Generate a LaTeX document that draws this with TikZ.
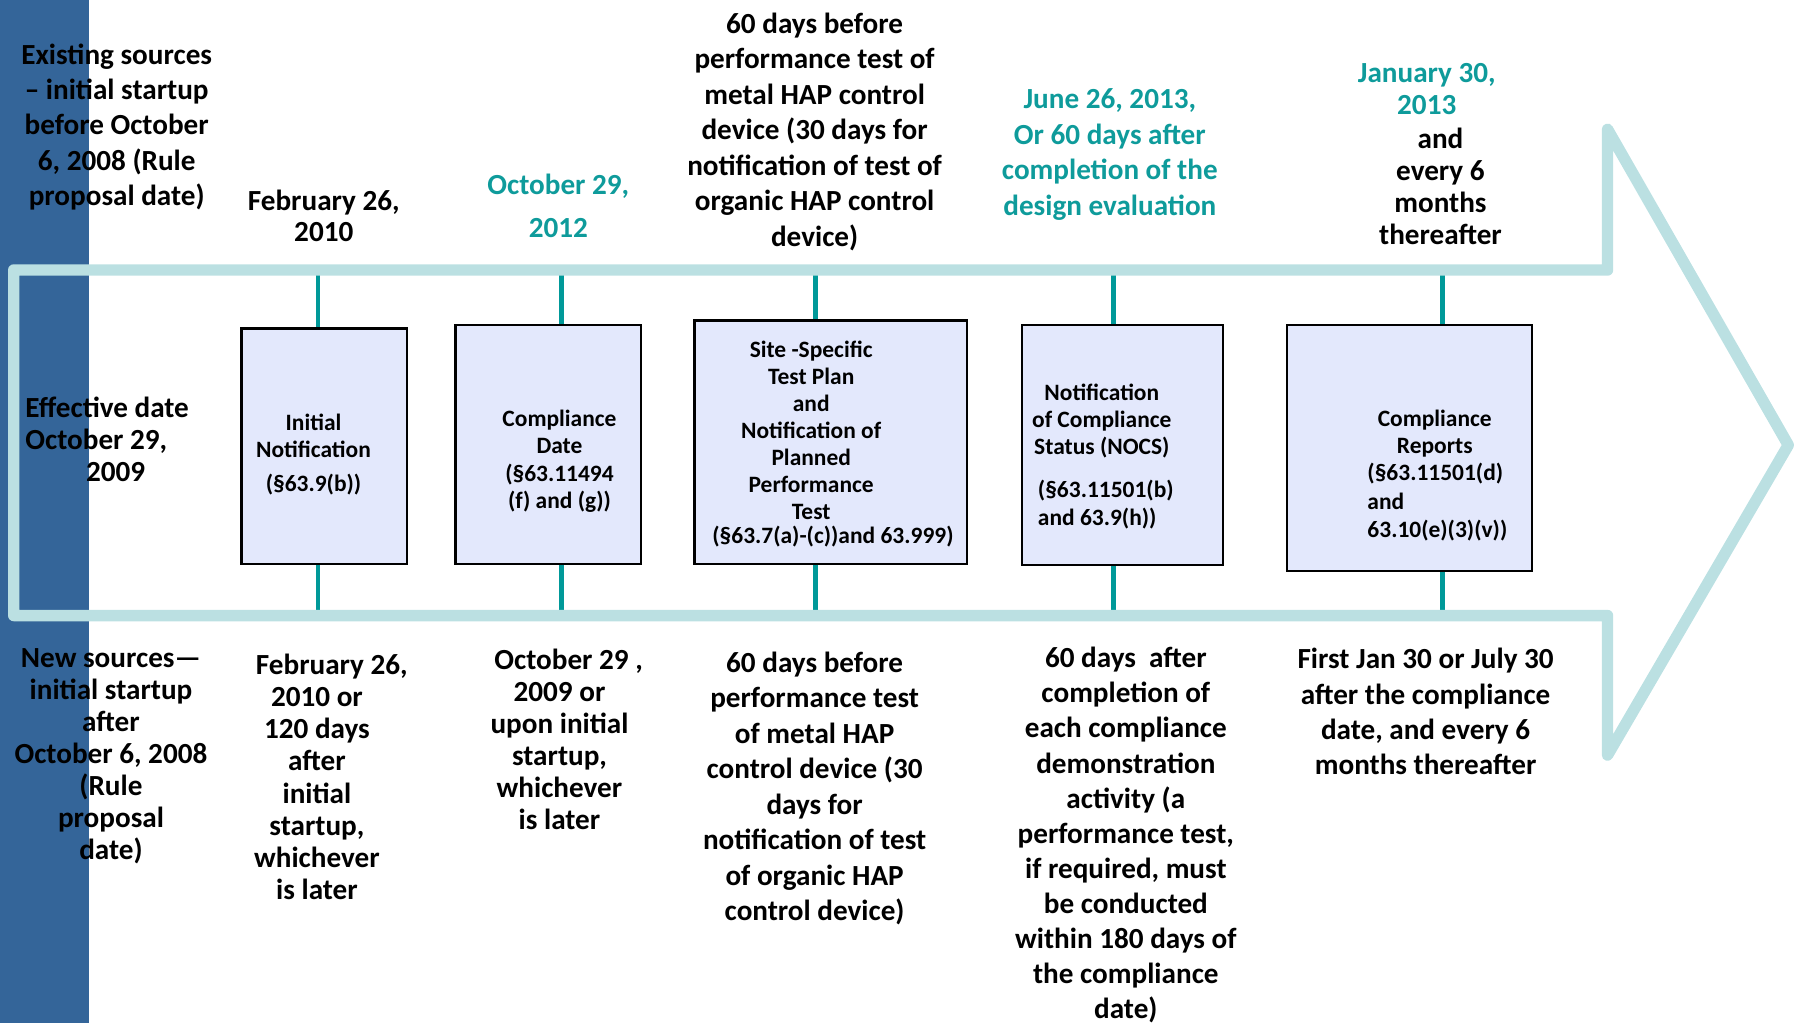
\documentclass[tikz,border=0pt]{standalone}
\usepackage{fontspec}
\setmainfont{Carlito}
\definecolor{barblue}{RGB}{52,101,153}
\definecolor{arrowcyan}{RGB}{187,224,226}
\definecolor{tealc}{RGB}{0,153,153}
\definecolor{tealtxt}{RGB}{14,155,155}
\definecolor{boxfill}{RGB}{227,232,252}
\begin{document}
\begin{tikzpicture}[x=1pt,y=-1pt,
  big/.style={align=center, inner sep=0pt, font=\bfseries\fontsize{25.5}{31}\selectfont},
  bigtight/.style={align=center, inner sep=0pt, font=\bfseries\fontsize{25.5}{28}\selectfont},
  small/.style={align=center, inner sep=0pt, font=\bfseries\fontsize{20.5}{23.5}\selectfont},
  smallleft/.style={align=left, inner sep=0pt, anchor=west, font=\bfseries\fontsize{20.5}{25}\selectfont},
  tl/.style={text=tealtxt},
  boxn/.style={draw=black, line width=2pt, fill=boxfill, inner sep=0pt},
  conn/.style={draw=tealc, line width=4pt},
  arrowline/.style={draw=arrowcyan, line width=10pt, line join=round, line cap=round}]
\useasboundingbox (0,0) rectangle (1568,894);
\fill[barblue] (0,0) rectangle (78,894);

% connector anchor points on the arrow bands
\coordinate (t1) at (278,238); \coordinate (u1) at (278,536);
\coordinate (t2) at (491,238); \coordinate (u2) at (491,536);
\coordinate (t3) at (713,238); \coordinate (u3) at (713,536);
\coordinate (t4) at (973,238); \coordinate (u4) at (973,536);
\coordinate (t5) at (1261,238); \coordinate (u5) at (1261,536);

% box positions (for connectors)
\node[boxn, minimum width=145pt, minimum height=206pt] (b1) at (283.5,390) {};
\node[boxn, minimum width=162pt, minimum height=209pt] (b2) at (479,388.5) {};
\node[boxn, minimum width=238pt, minimum height=213pt] (b3) at (726,386.5) {};
\node[boxn, minimum width=176pt, minimum height=210pt] (b4) at (981,389) {};
\node[boxn, minimum width=214pt, minimum height=215pt] (b5) at (1232,391.5) {};

\draw[conn] (t1) -- (t1 |- b1.north); \draw[conn] (b1.south -| u1) -- (u1);
\draw[conn] (t2) -- (t2 |- b2.north); \draw[conn] (b2.south -| u2) -- (u2);
\draw[conn] (t3) -- (t3 |- b3.north); \draw[conn] (b3.south -| u3) -- (u3);
\draw[conn] (t4) -- (t4 |- b4.north); \draw[conn] (b4.south -| u4) -- (u4);
\draw[conn] (t5) -- (t5 |- b5.north); \draw[conn] (b5.south -| u5) -- (u5);

% arrow outline
\draw[arrowline] (12,236) -- (1405,236) -- (1405,113) -- (1563,389) -- (1405,660) -- (1405,538) -- (12,538) -- cycle;

% redraw boxes on top of connectors
\node[boxn, minimum width=145pt, minimum height=206pt] at (b1) {};
\node[boxn, minimum width=162pt, minimum height=209pt] at (b2) {};
\node[boxn, minimum width=238pt, minimum height=213pt] at (b3) {};
\node[boxn, minimum width=176pt, minimum height=210pt] at (b4) {};
\node[boxn, minimum width=214pt, minimum height=215pt] at (b5) {};

% box texts
\node[small] (x1) at (274,397) {Initial\\Notification\\[6pt](§63.9(b))};
\node[small, font=\bfseries\fontsize{20.5}{24}\selectfont] (x2) at (489,403) {Compliance\\Date\\(§63.11494\\(f) and (g))};
\node[small] (x3) at (709,376) {Site -Specific\\Test Plan\\and\\Notification of\\Planned\\Performance\\Test};
\node[small] (x3b) at (728,469) {(§63.7(a)-(c))and 63.999)};
\node[small] (x4) at (963,368) {Notification\\of Compliance\\Status (NOCS)};
\node[smallleft] (x4b) at (907,441) {(§63.11501(b)\\and 63.9(h))};
\node[small] (x5) at (1254,379) {Compliance\\Reports};
\node[smallleft] (x5b) at (1195,439) {(§63.11501(d)\\and\\63.10(e)(3)(v))};

% top labels
\node[big] (exist) at (102,111) {Existing sources\\– initial startup\\before October\\6, 2008 (Rule\\proposal date)};
\node[big, font=\bfseries\fontsize{25.5}{27}\selectfont] (feb) at (283,189) {February 26,\\2010};
\node[big, tl, font=\bfseries\fontsize{25.5}{37}\selectfont] (oct) at (488,180) {October 29,\\2012};
\node[big] (sixty) at (712,115) {60 days before\\performance test of\\metal HAP control\\device (30 days for\\notification of test of\\organic HAP control\\device)};
\node[big, tl] (june) at (970,135) {June 26, 2013,\\Or 60 days after\\completion of the\\design evaluation};
\node[bigtight, tl] (jan) at (1247,78) {January 30,\\2013};
\node[bigtight] (every) at (1259,163) {and\\every 6\\months\\thereafter};

% middle left
\node[bigtight, align=left, anchor=west] (eff) at (22,384) {Effective date\\October 29,\\\hspace*{53pt}2009};

% bottom labels
\node[bigtight] (newsrc) at (97,661) {New sources—\\initial startup\\after\\October 6, 2008\\(Rule\\proposal\\date)};
\node[bigtight] (febb) at (277,679) {\hspace*{26pt}February 26,\\2010 or\\120 days\\after\\initial\\startup,\\whichever\\is later};
\node[bigtight] (octb) at (489,646) {\hspace*{16pt}October 29 ,\\2009 or\\upon initial\\startup,\\whichever\\is later};
\node[big] (sixtyb) at (712,689) {60 days before\\performance test\\of metal HAP\\control device (30\\days for\\notification of test\\of organic HAP\\control device)};
\node[big, font=\bfseries\fontsize{25.5}{30.7}\selectfont] (after) at (984,730) {60 days~ after\\completion of\\each compliance\\demonstration\\activity (a\\performance test,\\if required, must\\be conducted\\within 180 days of\\the compliance\\date)};
\node[big] (first) at (1246,622) {First Jan 30 or July 30\\after the compliance\\date, and every 6\\months thereafter};
\end{tikzpicture}
\end{document}
